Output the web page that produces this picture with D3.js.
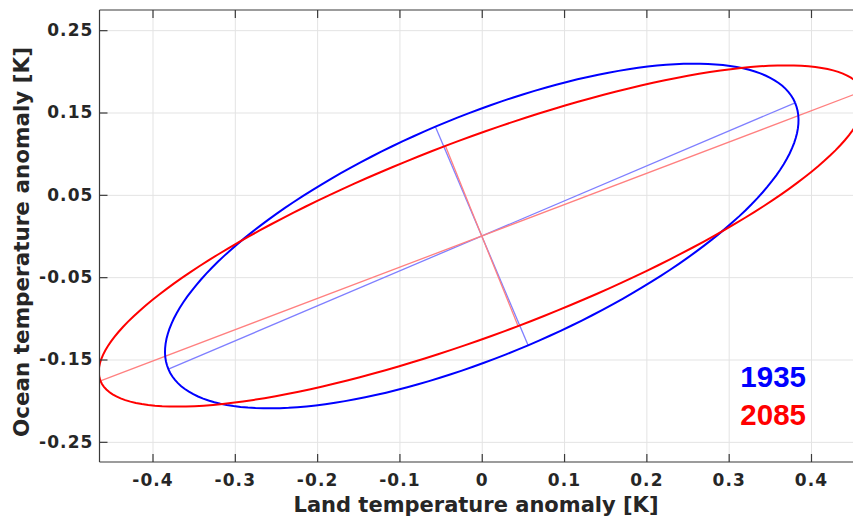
<!DOCTYPE html>
<html>
<head>
<meta charset="utf-8">
<script src="https://cdn.jsdelivr.net/npm/d3@7"></script>
<style>
  body { margin: 0; background: #fff; }
  svg { display: block; }
  .tick text { font-family: "DejaVu Sans", sans-serif; font-weight: bold; font-size: 17px; letter-spacing: 1.1px; fill: #262626; }
  .grid line { stroke: #e3e3e3; stroke-width: 1; }
  .grid .domain { display: none; }
</style>
</head>
<body>
<svg id="chart"></svg>
<script>
// ellipse data (data units, centre at 0,0)
const years = ["1935", "2085"];
const colors = ["#0000ff", "#ff0000"];
const axisColors = ["#7f7fff", "#ff8080"];
const centers = [[0, 0], [0, 0]];
const majorEnds = [[0.3807, 0.1618], [0.4632, 0.1760]];   // end of semi-major axis
const minorEnds = [[-0.0563, 0.1328], [-0.0441, 0.1094]]; // end of semi-minor axis

const xTicks = [-0.4, -0.3, -0.2, -0.1, 0, 0.1, 0.2, 0.3, 0.4];
const yTicks = [-0.25, -0.15, -0.05, 0.05, 0.15, 0.25];

const width = 853, height = 516;
const plotLeft = 99.5, plotRight = 864, plotTop = 10, plotBottom = 462;

const svg = d3.select("#chart").attr("width", width).attr("height", height);

const x = d3.scaleLinear().domain([-0.4644, 0.4644]).range([plotLeft, plotRight]);
const y = d3.scaleLinear().domain([-0.2745, 0.2745]).range([plotBottom, plotTop]);

// grid
svg.append("g").attr("class", "grid")
  .attr("transform", `translate(0,${plotBottom})`)
  .call(d3.axisBottom(x).tickValues(xTicks).tickSize(-(plotBottom - plotTop)).tickFormat(""));
svg.append("g").attr("class", "grid")
  .attr("transform", `translate(${plotLeft},0)`)
  .call(d3.axisLeft(y).tickValues(yTicks).tickSize(-(plotRight - plotLeft)).tickFormat(""));

// clip
svg.append("clipPath").attr("id", "plot")
  .append("rect").attr("x", plotLeft).attr("y", plotTop)
  .attr("width", plotRight - plotLeft).attr("height", plotBottom - plotTop);

const plot = svg.append("g").attr("clip-path", "url(#plot)");

const line = d3.line().x(d => x(d[0])).y(d => y(d[1]));

years.forEach((yr, i) => {
  const c = centers[i], M = majorEnds[i], m = minorEnds[i];
  // principal axes
  plot.append("path")
    .attr("d", line([[c[0] - M[0], c[1] - M[1]], [c[0] + M[0], c[1] + M[1]]]))
    .attr("stroke", axisColors[i]).attr("stroke-width", 1.3).attr("fill", "none");
  plot.append("path")
    .attr("d", line([[c[0] - m[0], c[1] - m[1]], [c[0] + m[0], c[1] + m[1]]]))
    .attr("stroke", axisColors[i]).attr("stroke-width", 1.3).attr("fill", "none");
});

years.forEach((yr, i) => {
  const c = centers[i], M = majorEnds[i], m = minorEnds[i];
  const pts = d3.range(0, 361, 2).map(a => {
    const t = a * Math.PI / 180;
    return [c[0] + M[0] * Math.cos(t) + m[0] * Math.sin(t),
            c[1] + M[1] * Math.cos(t) + m[1] * Math.sin(t)];
  });
  plot.append("path")
    .attr("d", line(pts))
    .attr("stroke", colors[i]).attr("stroke-width", 2).attr("fill", "none");
});

// axes (MATLAB style, ticks inward)
const axColor = "#3a3a3a";
const gx = svg.append("g").attr("transform", `translate(0,${plotBottom})`)
  .call(d3.axisBottom(x).tickValues(xTicks).tickSize(-8).tickPadding(12)
    .tickFormat(d => d === 0 ? "0" : d3.format(".1f")(d).replace("−", "-")));
const gy = svg.append("g").attr("transform", `translate(${plotLeft},0)`)
  .call(d3.axisLeft(y).tickValues(yTicks).tickSize(-8).tickPadding(6)
    .tickFormat(d => d3.format(".2f")(d).replace("−", "-")));
const gt = svg.append("g").attr("transform", `translate(0,${plotTop})`)
  .call(d3.axisTop(x).tickValues(xTicks).tickSize(-8).tickFormat(""));
[gx, gy, gt].forEach(g => {
  g.selectAll(".domain").attr("stroke", axColor).attr("stroke-width", 1.2);
  g.selectAll(".tick line").attr("stroke", axColor).attr("stroke-width", 1.2);
});
gy.selectAll(".domain").attr("d", `M0,${plotTop}V${plotBottom}`);
gx.selectAll(".domain").attr("d", `M${plotLeft},0H${plotRight}`);
gt.selectAll(".domain").attr("d", `M${plotLeft},0H${plotRight}`);

// axis titles
svg.append("text")
  .attr("x", 476).attr("y", 512)
  .attr("text-anchor", "middle")
  .style("font-family", "DejaVu Sans, sans-serif").style("font-weight", "bold")
  .style("font-size", "21px").style("fill", "#262626")
  .text("Land temperature anomaly [K]");

svg.append("text")
  .attr("transform", "translate(29,242) rotate(-90)")
  .attr("text-anchor", "middle")
  .style("font-family", "DejaVu Sans, sans-serif").style("font-weight", "bold")
  .style("font-size", "21.5px").style("fill", "#262626")
  .text("Ocean temperature anomaly [K]");

// legend
years.forEach((yr, i) => {
  svg.append("text")
    .attr("x", 806).attr("y", 387 + i * 38)
    .attr("text-anchor", "end")
    .style("font-family", "Liberation Sans, Arial, sans-serif").style("font-weight", "bold")
    .style("font-size", "29.5px").style("fill", colors[i])
    .text(yr);
});
</script>
</body>
</html>
